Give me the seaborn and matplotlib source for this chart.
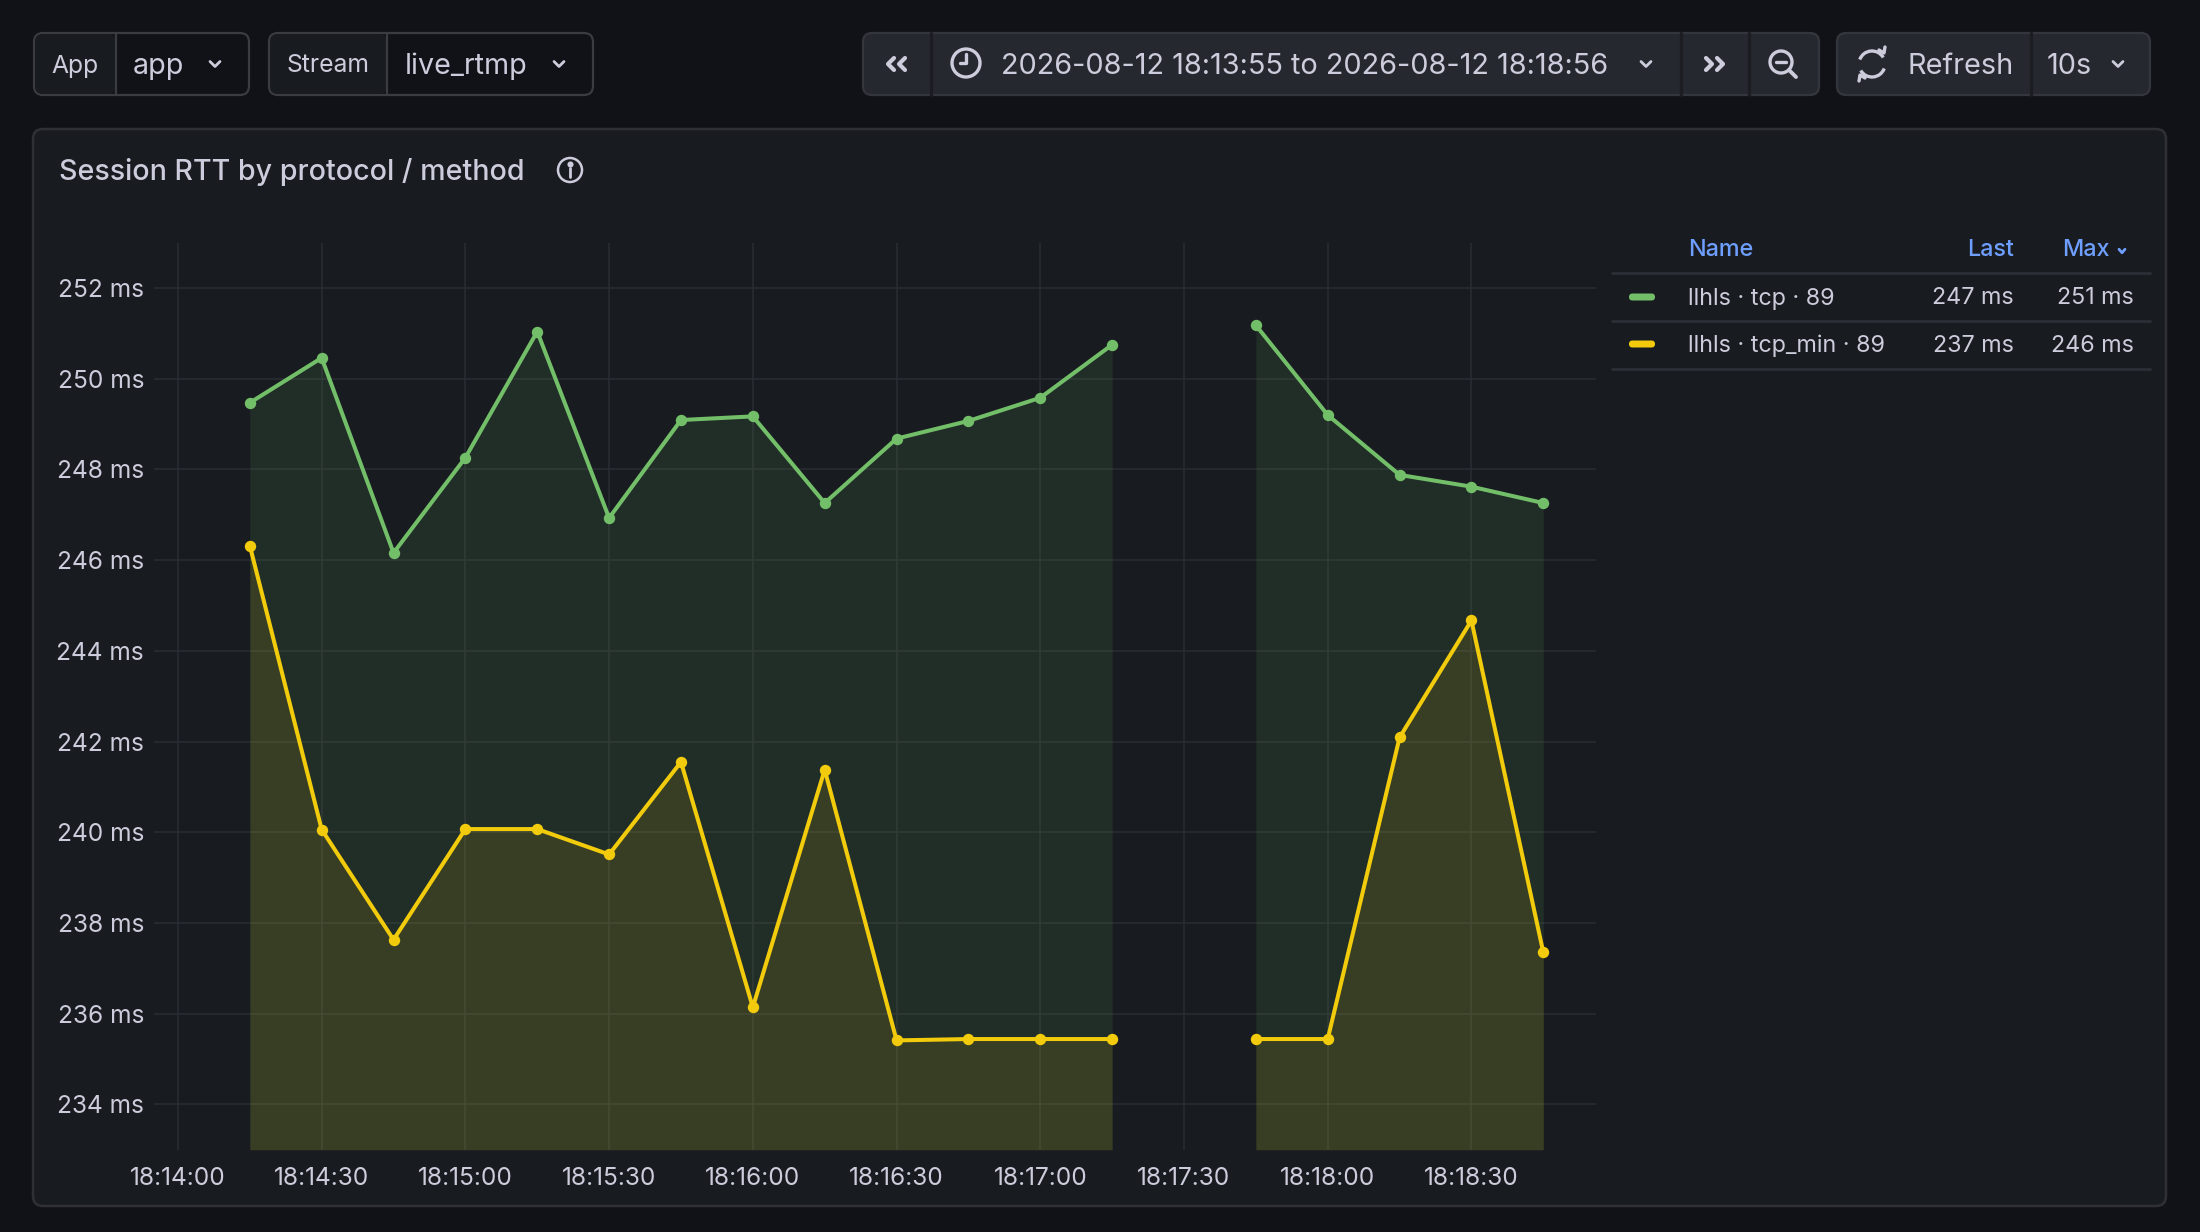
import numpy as np
import pandas as pd
import matplotlib
matplotlib.use('Agg')
import matplotlib.pyplot as plt
import matplotlib.dates as mdates
from matplotlib.patches import FancyBboxPatch, Circle, Arc
from matplotlib.ticker import FuncFormatter
import seaborn as sns

# ---- data ----
day = "2026-08-12"
times = ["18:14:15", "18:14:30", "18:14:45", "18:15:00", "18:15:15", "18:15:30",
         "18:15:45", "18:16:00", "18:16:15", "18:16:30", "18:16:45", "18:17:00",
         "18:17:15", "18:17:30", "18:17:45", "18:18:00", "18:18:15", "18:18:30",
         "18:18:45"]
tcp = [249.47, 250.46, 246.16, 248.26, 251.04, 246.93, 249.09, 249.17, 247.26,
       248.68, 249.07, 249.58, 250.75, np.nan, 251.18, 249.20, 247.88, 247.62,
       247.26]
tcp_min = [246.32, 240.06, 237.63, 240.07, 240.07, 239.51, 241.55, 236.14, 241.38,
           235.41, 235.44, 235.44, 235.44, np.nan, 235.44, 235.44, 242.09, 244.67,
           237.35]
series_names = ["llhls · tcp · 89", "llhls · tcp_min · 89"]
series_colors = ["#73BF69", "#F2CC0C"]
y_ticks = list(range(234, 253, 2))
range_start = "18:13:55"
range_end = "18:18:56"
panel_title = "Session RTT by protocol / method"

W, H = 2200, 1232
BG = '#111217'
PANEL = '#181b1f'
TXT = '#ccccdc'
GRID = '#2a2d33'
BORDER = '#2e3036'

sns.set_theme(style="dark")
plt.rcParams['font.family'] = ['Inter', 'DejaVu Sans']

fig = plt.figure(figsize=(11, 6.16), dpi=200, facecolor=BG)

# pixel-space canvas for the dashboard chrome
bg = fig.add_axes([0, 0, 1, 1])
bg.set_xlim(0, W)
bg.set_ylim(H, 0)
bg.axis('off')


def rbox(x0, y0, x1, y1, fc, ec, r=8, lw=0.8, z=1):
    bg.add_patch(FancyBboxPatch((x0, y0), x1 - x0, y1 - y0,
                                boxstyle=f"round,pad=0,rounding_size={r}",
                                fc=fc, ec=ec, lw=lw, zorder=z))


def vline(x, y0, y1, color='#3a3c42', lw=0.8):
    bg.plot([x, x], [y0, y1], color=color, lw=lw, zorder=3)


def chev(x, y, w=10, h=5, color=TXT, lw=1.0):
    bg.plot([x - w / 2, x, x + w / 2], [y - h / 2, y + h / 2, y - h / 2],
            color=color, lw=lw, solid_capstyle='round', solid_joinstyle='round', zorder=4)


def side_chev(x, y, w=6, h=12, left=True):
    d = -1 if left else 1
    bg.plot([x - d * w / 2, x + d * w / 2, x - d * w / 2], [y - h / 2, y, y + h / 2],
            color=TXT, lw=1.5, solid_capstyle='round', solid_joinstyle='round', zorder=4)


def txt(x, y, s, size=8.2, ha='left', color=TXT, weight='normal'):
    bg.text(x, y, s, fontsize=size, ha=ha, va='center', color=color,
            fontweight=weight, zorder=5)


# top variable pickers
rbox(34, 33, 249, 95, BG, '#3a3c42', r=9)
bg.add_patch(FancyBboxPatch((35, 34), 81, 60, boxstyle="round,pad=0,rounding_size=8",
                            fc=PANEL, ec='none', zorder=2))
vline(116, 33, 95)
txt(75, 66, "App", 8.9, ha='center')
txt(133, 66, "app", 10.3)
chev(215, 64)

rbox(269, 33, 593, 95, BG, '#3a3c42', r=9)
bg.add_patch(FancyBboxPatch((270, 34), 117, 60, boxstyle="round,pad=0,rounding_size=8",
                            fc=PANEL, ec='none', zorder=2))
vline(387, 33, 95)
txt(328, 66, "Stream", 8.9, ha='center')
txt(405, 66, "live_rtmp", 10.3)
chev(559, 64)

# time picker group
rbox(863, 33, 1819, 95, '#25282e', '#33363c', r=9)
vline(931, 33, 95, '#1b1d22', 1.2)
vline(1681, 33, 95, '#1b1d22', 1.2)
vline(1749, 33, 95, '#1b1d22', 1.2)
side_chev(891, 64, left=True)
side_chev(902, 64, left=True)
bg.add_patch(Circle((966, 63), 14, fill=False, ec=TXT, lw=1.2, zorder=4))
bg.plot([966, 966, 960], [54, 63, 63], color=TXT, lw=1.2, zorder=4)
txt(1001, 66, f"{day} {range_start} to {day} {range_end}", 10.4)
chev(1646, 64)
side_chev(1709, 64, left=False)
side_chev(1720, 64, left=False)
bg.add_patch(Circle((1781, 62), 11, fill=False, ec=TXT, lw=1.2, zorder=4))
bg.plot([1776, 1786], [62, 62], color=TXT, lw=1.2, zorder=4)
bg.plot([1789, 1796], [70, 77], color=TXT, lw=1.4, solid_capstyle='round', zorder=4)

# refresh group
rbox(1837, 33, 2150, 95, '#25282e', '#33363c', r=9)
vline(2031, 33, 95, '#1b1d22', 1.2)
bg.add_patch(Arc((1872, 64), 26, 26, theta1=200, theta2=330, ec=TXT, lw=1.2, zorder=4))
bg.add_patch(Arc((1872, 64), 26, 26, theta1=20, theta2=150, ec=TXT, lw=1.2, zorder=4))
bg.plot([1879, 1884, 1885], [50, 53, 47], color=TXT, lw=1.2, zorder=4)
bg.plot([1865, 1860, 1859], [78, 75, 81], color=TXT, lw=1.2, zorder=4)
txt(1907, 66, "Refresh", 10.4)
txt(2047, 66, "10s", 10.4)
chev(2118, 64)

# panel
rbox(33, 129, 2166, 1206, PANEL, BORDER, r=10, lw=0.9)
txt(59, 172.5, panel_title, 10.3, weight='medium')
bg.add_patch(Circle((570, 170), 12, fill=False, ec=TXT, lw=0.9, zorder=4))
bg.plot([570, 570], [168, 177], color=TXT, lw=1.0, zorder=4)
bg.plot([570], [164], marker='o', ms=1.2, color=TXT, zorder=4)

# ---- time series ----
ts = pd.to_datetime([f"{day} {t}" for t in times])
frames = []
for name, vals in zip(series_names, [tcp, tcp_min]):
    d = pd.DataFrame({'time': ts, 'value': vals, 'series': name})
    d['seg'] = d['value'].isna().cumsum()
    frames.append(d.dropna())
df = pd.concat(frames, ignore_index=True)

ymin, ymax = 233, 253
ax = fig.add_axes([154 / W, 1 - 1149.7 / H, (1596 - 154) / W, (1149.7 - 242.7) / H])
ax.patch.set_alpha(0)

for name, color in zip(series_names, series_colors):
    sub = df[df['series'] == name]
    for _, seg in sub.groupby('seg'):
        ax.fill_between(seg['time'], seg['value'], ymin, color=color, alpha=0.11,
                        lw=0, zorder=1)
    sns.lineplot(data=sub, x='time', y='value', units='seg', estimator=None,
                 color=color, lw=1.45, marker='o', markersize=4.1,
                 markeredgewidth=0, ax=ax, legend=False, zorder=3)

ax.set_xlim(pd.Timestamp(f"{day} {range_start}"), pd.Timestamp(f"{day} {range_end}"))
ax.set_ylim(ymin, ymax)
ax.set_yticks(y_ticks)
ax.yaxis.set_major_formatter(FuncFormatter(lambda v, p: f"{v:.0f} ms"))
ax.xaxis.set_major_locator(mdates.SecondLocator(bysecond=[0, 30]))
ax.xaxis.set_major_formatter(mdates.DateFormatter('%H:%M:%S'))
ax.set_xlabel('')
ax.set_ylabel('')
ax.grid(True, color=GRID, lw=0.55)
ax.set_axisbelow(True)
for s in ax.spines.values():
    s.set_visible(False)
ax.tick_params(axis='both', length=0, labelsize=8.8, labelcolor=TXT)
ax.tick_params(axis='y', pad=3.6)
ax.tick_params(axis='x', pad=6.2)
for lab in ax.get_yticklabels():
    lab.set_verticalalignment('center_baseline')

# ---- legend table ----
BLUE = '#6E9FFF'
txt(1688, 249.5, "Name", 8.4, color=BLUE, weight='medium')
txt(2014, 249.5, "Last", 8.4, ha='right', color=BLUE, weight='medium')
txt(2110, 249.5, "Max", 8.4, ha='right', color=BLUE, weight='medium')
chev(2122, 251, w=6, h=3.5, color=BLUE)
for yy in [273, 321, 369]:
    bg.plot([1612, 2150], [yy, yy], color='#2c2f35', lw=1.0, zorder=3)
row_y = [297, 344]
for name, color, vals, yy in zip(series_names, series_colors, [tcp, tcp_min], row_y):
    v = pd.Series(vals).dropna()
    bg.add_patch(FancyBboxPatch((1629, yy - 3.5), 26, 7,
                                boxstyle="round,pad=0,rounding_size=3.5",
                                fc=color, ec='none', zorder=4))
    txt(1688, yy + 1.5, name, 8.4)
    txt(2014, yy + 1.5, f"{v.iloc[-1]:.0f} ms", 8.4, ha='right')
    txt(2134, yy + 1.5, f"{v.max():.0f} ms", 8.4, ha='right')

fig.savefig('out.png', dpi=200, facecolor=BG)
